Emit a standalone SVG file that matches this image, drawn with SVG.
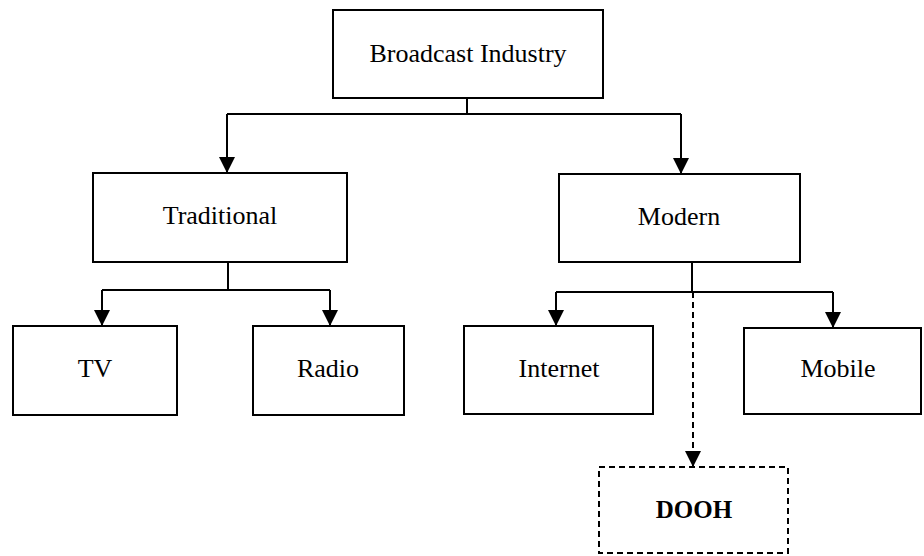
<svg xmlns="http://www.w3.org/2000/svg" width="924" height="556" viewBox="0 0 924 556">
<style>
.box{fill:#fff;stroke:#000;stroke-width:2}
.dbox{fill:#fff;stroke:#000;stroke-width:2;stroke-dasharray:6 4}
.lbl{font-family:"Liberation Serif","Times New Roman",serif;font-size:26px;fill:#000;text-anchor:middle}
.bold{font-weight:bold;font-size:25px}
.ln{fill:none;stroke:#000;stroke-width:2}
.dash{stroke-dasharray:6 4}
</style>
<defs>
<marker id="arrd" markerUnits="userSpaceOnUse" markerWidth="16" markerHeight="16" viewBox="0 0 16 16" refX="16" refY="8" orient="auto">
<path d="M0,0 L16,8 L0,16 Z" fill="#000"/>
</marker>
</defs>
<rect width="924" height="556" fill="#fff"/>
<g id="connectors">
<path class="ln" d="M467,98 V114 M227,114 H681"/>
<path class="ln" d="M227,114 V173" marker-end="url(#arrd)"/>
<path class="ln" d="M681,114 V174" marker-end="url(#arrd)"/>
<path class="ln" d="M228,262 V290 M102,290 H330"/>
<path class="ln" d="M102,290 V326" marker-end="url(#arrd)"/>
<path class="ln" d="M330,290 V326" marker-end="url(#arrd)"/>
<path class="ln" d="M692,262 V292 M556,292 H833"/>
<path class="ln" d="M556,292 V326" marker-end="url(#arrd)"/>
<path class="ln" d="M833,292 V328" marker-end="url(#arrd)"/>
<path class="ln dash" d="M693,292 V467" marker-end="url(#arrd)"/>
</g>
<g id="broadcast">
<rect class="box" x="333" y="10" width="270" height="88"/>
<text class="lbl" x="468" y="62">Broadcast Industry</text>
</g>
<g id="traditional">
<rect class="box" x="93" y="173" width="254" height="89"/>
<text class="lbl" x="220" y="224">Traditional</text>
</g>
<g id="modern">
<rect class="box" x="559" y="174" width="241" height="88"/>
<text class="lbl" x="679" y="225">Modern</text>
</g>
<g id="tv">
<rect class="box" x="13" y="326" width="164" height="89"/>
<text class="lbl" x="95" y="377">TV</text>
</g>
<g id="radio">
<rect class="box" x="253" y="326" width="151" height="89"/>
<text class="lbl" x="328" y="377">Radio</text>
</g>
<g id="internet">
<rect class="box" x="464" y="326" width="189" height="88"/>
<text class="lbl" x="559" y="377">Internet</text>
</g>
<g id="mobile">
<rect class="box" x="744" y="328" width="177" height="86"/>
<text class="lbl" x="838" y="377">Mobile</text>
</g>
<g id="dooh">
<rect class="dbox" x="599" y="467" width="189" height="86"/>
<text class="lbl bold" x="694" y="518">DOOH</text>
</g>
</svg>
